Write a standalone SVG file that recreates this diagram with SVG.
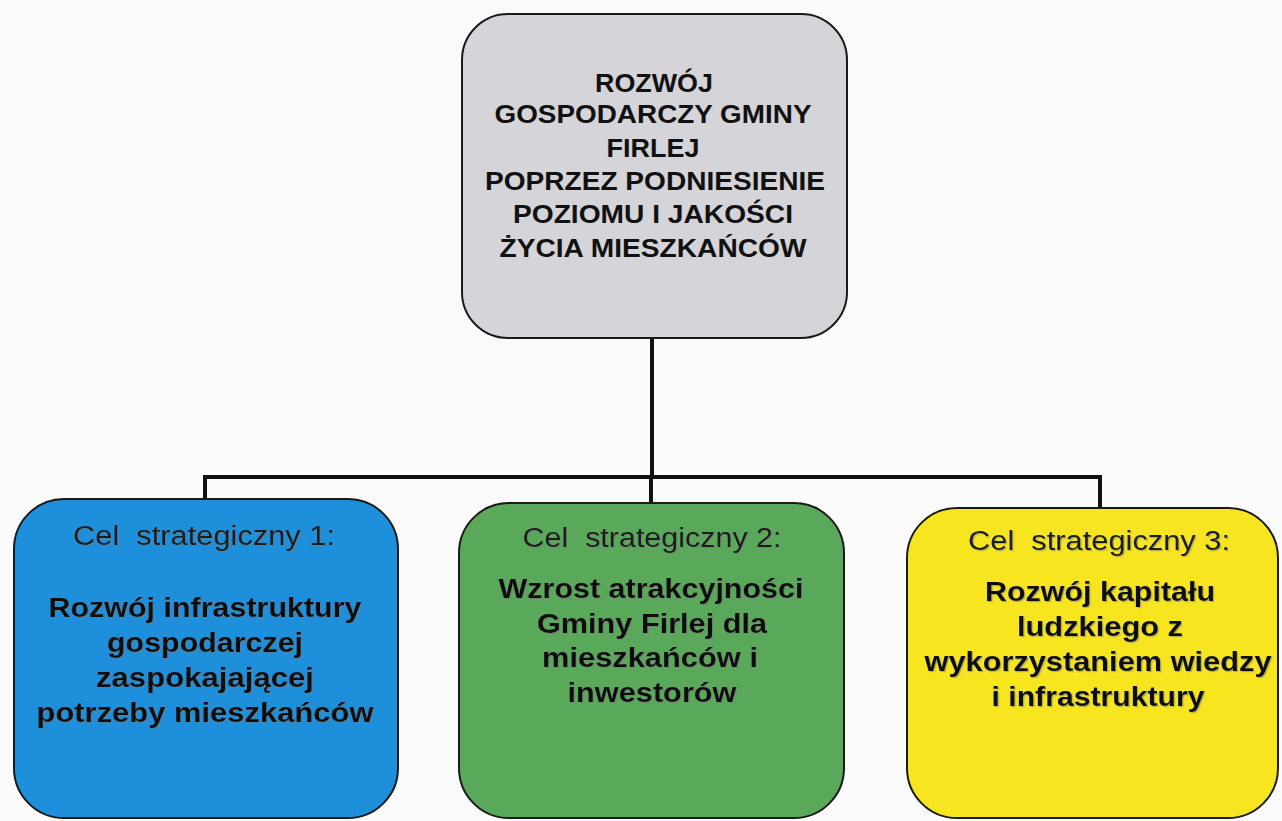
<svg xmlns="http://www.w3.org/2000/svg" width="1282" height="821" viewBox="0 0 1282 821">
<defs>
<filter id="sh" x="-5%" y="-20%" width="110%" height="140%">
<feDropShadow dx="1.2" dy="1.2" stdDeviation="0.4" flood-color="#777" flood-opacity="0.5"/>
</filter>
</defs>
<style>
.box{stroke:#1a1a1a;stroke-width:2}
.t{font-family:"Liberation Sans",Arial,sans-serif;text-anchor:middle;fill:#111}
.h{font-weight:bold;font-size:25.5px}
.c1{font-size:27px;fill:#1a1a1a}
.b{font-weight:bold;font-size:27.5px}
.s text{filter:url(#sh)}
.c{stroke:#111;stroke-width:4;fill:none}
</style>
<rect width="1282" height="821" fill="#fbfbfb"/>
<g id="connectors">
<path class="c" d="M652 339 V477 M205 477 H1100 M205 475 V499 M651 477 V503 M1100 475 V508"/>
</g>
<g id="top">
<rect class="box" x="462" y="14" width="385" height="324" rx="46" fill="#d5d4d9"/>
<text class="t h" x="654" y="92" textLength="118" lengthAdjust="spacingAndGlyphs">ROZWÓJ</text>
<text class="t h" x="653" y="123" textLength="317" lengthAdjust="spacingAndGlyphs">GOSPODARCZY GMINY</text>
<text class="t h" x="653" y="157" textLength="93" lengthAdjust="spacingAndGlyphs">FIRLEJ</text>
<text class="t h" x="655" y="190" textLength="340" lengthAdjust="spacingAndGlyphs">POPRZEZ PODNIESIENIE</text>
<text class="t h" x="653" y="223" textLength="280" lengthAdjust="spacingAndGlyphs">POZIOMU I JAKOŚCI</text>
<text class="t h" x="653" y="257" textLength="307" lengthAdjust="spacingAndGlyphs">ŻYCIA MIESZKAŃCÓW</text>
</g>
<g id="goal1" class="s">
<rect class="box" x="14" y="499" width="384" height="319" rx="50" fill="#1e8fdb"/>
<text class="t c1" x="204" y="545" textLength="262" lengthAdjust="spacingAndGlyphs" xml:space="preserve">Cel  strategiczny 1:</text>
<text class="t b" x="205" y="617" textLength="313" lengthAdjust="spacingAndGlyphs">Rozwój infrastruktury</text>
<text class="t b" x="205" y="652" textLength="196" lengthAdjust="spacingAndGlyphs">gospodarczej</text>
<text class="t b" x="205" y="687" textLength="218" lengthAdjust="spacingAndGlyphs">zaspokajającej</text>
<text class="t b" x="205" y="722" textLength="337" lengthAdjust="spacingAndGlyphs">potrzeby mieszkańców</text>
</g>
<g id="goal2" class="s">
<rect class="box" x="459" y="503" width="385" height="315" rx="50" fill="#5aa95b"/>
<text class="t c1" x="652" y="547" textLength="259" lengthAdjust="spacingAndGlyphs" xml:space="preserve">Cel  strategiczny 2:</text>
<text class="t b" x="651" y="598" textLength="305" lengthAdjust="spacingAndGlyphs">Wzrost atrakcyjności</text>
<text class="t b" x="652" y="633" textLength="230" lengthAdjust="spacingAndGlyphs">Gminy Firlej dla</text>
<text class="t b" x="650" y="667" textLength="216" lengthAdjust="spacingAndGlyphs">mieszkańców i</text>
<text class="t b" x="652" y="702" textLength="169" lengthAdjust="spacingAndGlyphs">inwestorów</text>
</g>
<g id="goal3" class="s">
<rect class="box" x="907" y="508" width="371" height="310" rx="50" fill="#f6e51f"/>
<text class="t c1" x="1099" y="550" textLength="262" lengthAdjust="spacingAndGlyphs" xml:space="preserve">Cel  strategiczny 3:</text>
<text class="t b" x="1100" y="601" textLength="230" lengthAdjust="spacingAndGlyphs">Rozwój kapitału</text>
<text class="t b" x="1100" y="636" textLength="166" lengthAdjust="spacingAndGlyphs">ludzkiego z</text>
<text class="t b" x="1098" y="671" textLength="347" lengthAdjust="spacingAndGlyphs">wykorzystaniem wiedzy</text>
<text class="t b" x="1098" y="706" textLength="213" lengthAdjust="spacingAndGlyphs">i infrastruktury</text>
</g>
</svg>
